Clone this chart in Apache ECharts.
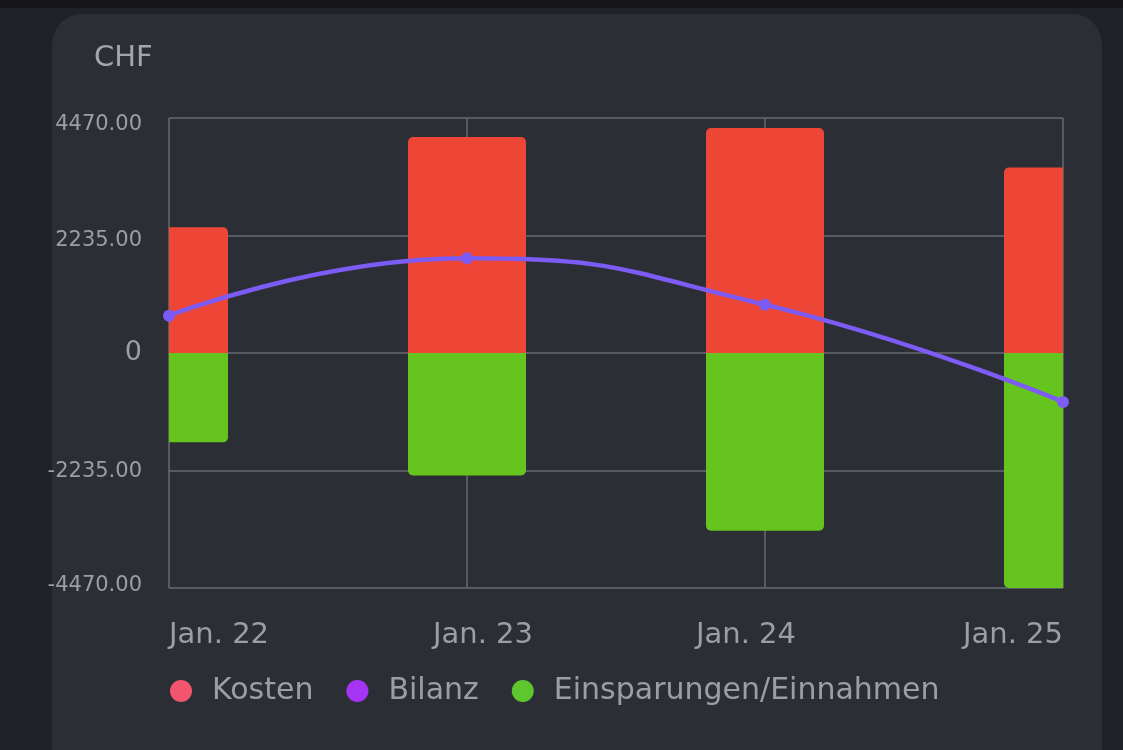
<!DOCTYPE html>
<html>
<head>
<meta charset="utf-8">
<script src="https://cdn.jsdelivr.net/npm/echarts@6/dist/echarts.min.js"></script>
<style>
  html, body {
    margin: 0;
    padding: 0;
    width: 1123px;
    height: 750px;
    overflow: hidden;
    background: #202126;
  }
  .topbar {
    position: absolute;
    left: 0; top: 0;
    width: 1123px; height: 8px;
    background: #161618;
  }
  .card {
    position: absolute;
    left: 52px; top: 14px;
    width: 1050px; height: 780px;
    border-radius: 30px;
    background: #2c2e35;
  }
  #chart {
    position: absolute;
    left: 0; top: 0;
    width: 1123px; height: 750px;
  }
</style>
</head>
<body>
<div class="topbar"></div>
<div class="card"></div>
<div id="chart"></div>
<script>
const months = ["Jan. 22", "Jan. 23", "Jan. 24", "Jan. 25"];
const kosten = [2390, 4110, 4280, 3530];
const einnahmen = [-1700, -2330, -3380, -4470];
const bilanz = [710, 1800, 920, -930];
const yTicks = [-4470, -2235, 0, 2235, 4470];

const textColor = "#9c9ea5";
const gridColor = "#676a72";
const font = "DejaVu Sans";
const barW = 118;

const chart = echarts.init(document.getElementById("chart"));

// Balken am Rand des Diagramms abschneiden (wie im Original)
function barItem(params, api) {
  const idx = api.value(0);
  const val = api.value(1);
  const end = api.coord([idx, val]);
  const base = api.coord([idx, 0]);
  const left = end[0] - barW / 2;
  const cs = params.coordSys;
  const rect = echarts.graphic.clipRectByRect(
    { x: left, y: Math.min(end[1], base[1]), width: barW, height: Math.abs(end[1] - base[1]) },
    { x: cs.x, y: cs.y, width: cs.width, height: cs.height }
  );
  if (!rect) return;
  const cutL = rect.x > left + 0.5;
  const cutR = rect.x + rect.width < left + barW - 0.5;
  const r = val >= 0
    ? [cutL ? 0 : 5, cutR ? 0 : 5, 0, 0]
    : [0, 0, cutR ? 0 : 5, cutL ? 0 : 5];
  return {
    type: "rect",
    shape: { x: rect.x, y: rect.y, width: rect.width, height: rect.height, r: r },
    style: api.style(),
  };
}

const labelRich = {
  r: { padding: [0, 0, 0, 32] },
  l: { padding: [0, 38, 0, 0] },
};

const yRich = {
  z: { fontSize: 27, color: textColor, fontFamily: font },
  t: { fontSize: 21, color: textColor, fontFamily: font, padding: [14, 0, 0, 0] },
  b: { fontSize: 21, color: textColor, fontFamily: font, padding: [0, 0, 4, 0] },
  m: { fontSize: 21, color: textColor, fontFamily: font, padding: [10, 0, 0, 0] },
  n: { fontSize: 21, color: textColor, fontFamily: font, padding: [2, 0, 0, 0] },
};

function yLabel(v) {
  if (v === 0) return "{z|0}";
  const s = v.toFixed(2);
  if (v === yTicks[4]) return "{t|" + s + "}";
  if (v === yTicks[0]) return "{b|" + s + "}";
  return v > 0 ? "{m|" + s + "}" : "{n|" + s + "}";
}

const option = {
  backgroundColor: "transparent",
  textStyle: { fontFamily: font },
  title: {
    text: "CHF",
    left: 89,
    top: 39,
    textStyle: { color: "#a3a5ab", fontSize: 29, fontWeight: "normal", fontFamily: font },
  },
  legend: {
    left: 165,
    top: 671,
    icon: "circle",
    itemWidth: 22,
    itemHeight: 22,
    itemGap: 33,
    textStyle: { color: textColor, fontSize: 30, fontFamily: font, padding: [0, 0, 0, 15] },
    data: [
      { name: "Kosten", itemStyle: { color: "#f2566f" } },
      { name: "Bilanz", itemStyle: { color: "#a634f5" } },
      { name: "Einsparungen/Einnahmen", itemStyle: { color: "#5fc72e" } },
    ],
  },
  grid: { left: 169, right: 60, top: 118, bottom: 162 },
  xAxis: {
    type: "category",
    boundaryGap: false,
    data: months,
    axisLine: { show: false },
    axisTick: { show: false },
    splitLine: { show: true, lineStyle: { color: gridColor, width: 1.5 } },
    axisLabel: {
      color: textColor,
      fontSize: 29,
      fontFamily: font,
      margin: 33,
      alignMinLabel: "left",
      alignMaxLabel: "right",
      formatter: (v, i) => (i === 1 ? "{r|" + v + "}" : i === 2 ? "{l|" + v + "}" : v),
      rich: labelRich,
    },
  },
  yAxis: {
    type: "value",
    min: yTicks[0],
    max: yTicks[yTicks.length - 1],
    interval: 2235,
    axisLine: { show: false },
    axisTick: { show: false },
    splitLine: { lineStyle: { color: gridColor, width: 1.5 } },
    axisLabel: {
      color: textColor,
      fontSize: 21,
      fontFamily: font,
      margin: 27,
      formatter: yLabel,
      rich: yRich,
    },
  },
  series: [
    {
      name: "Kosten",
      type: "custom",
      renderItem: barItem,
      data: kosten.map((v, i) => [i, v]),
      encode: { x: 0, y: 1 },
      itemStyle: { color: "#ee4636" },
      z: 2,
    },
    {
      name: "Einsparungen/Einnahmen",
      type: "custom",
      renderItem: barItem,
      data: einnahmen.map((v, i) => [i, v]),
      encode: { x: 0, y: 1 },
      itemStyle: { color: "#66c41f" },
      z: 2,
    },
    {
      name: "Bilanz",
      type: "line",
      smooth: true,
      data: bilanz,
      symbol: "circle",
      symbolSize: 12,
      clip: false,
      z: 5,
      lineStyle: { color: "#7d5cf5", width: 4.5 },
      itemStyle: { color: "#7d5cf5" },
    },
  ],
};

chart.setOption(option);
</script>
</body>
</html>
